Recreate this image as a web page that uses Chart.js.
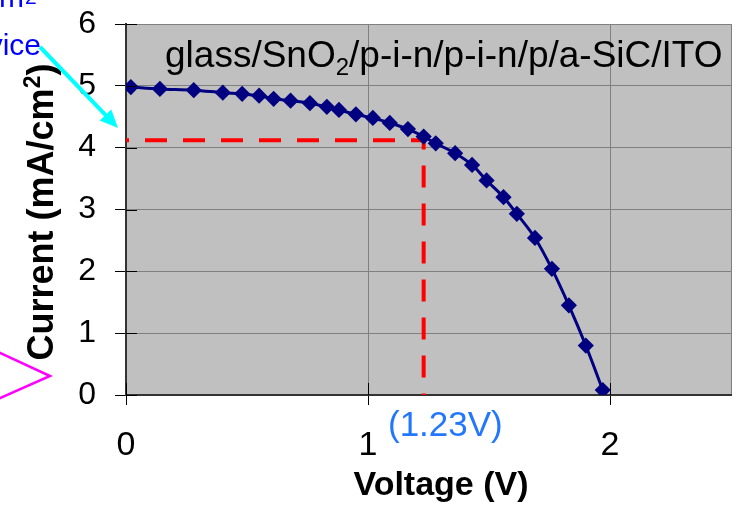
<!DOCTYPE html>
<html>
<head>
<meta charset="utf-8">
<script src="https://cdn.jsdelivr.net/npm/chart.js@4.4.0/dist/chart.umd.min.js"></script>
<style>
  body { margin: 0; background: #fff; }
  #wrap { width: 740px; height: 513px; position: relative; }
</style>
</head>
<body>
<div id="wrap"><canvas id="iv-chart"></canvas></div>
<script>
// I-V curve
const voltage = [0.02, 0.14, 0.28, 0.40, 0.48, 0.55, 0.61, 0.68, 0.76, 0.83, 0.88, 0.95, 1.02, 1.09,
    1.165, 1.23, 1.28, 1.36, 1.43, 1.49, 1.56, 1.615, 1.69, 1.76, 1.83, 1.90, 1.97];
const current = [4.98, 4.95, 4.93, 4.89, 4.87, 4.84, 4.79, 4.76, 4.72, 4.66, 4.61, 4.54, 4.48, 4.40,
    4.30, 4.18, 4.07, 3.91, 3.72, 3.47, 3.20, 2.93, 2.54, 2.04, 1.45, 0.80, 0.08];

// operating point guide (red dashed)
const guideV = [0, 1.23, 1.23];
const guideI = [4.12, 4.12, 0];

const xTicks = [0, 1, 2, 2.5];
const yTicks = [0, 1, 2, 3, 4, 5, 6];

const FONT = "'Liberation Sans', Arial, sans-serif";

function pts(xs, ys) {
    return xs.map((x, i) => ({ x: x, y: ys[i] }));
}

const extras = {
    id: 'extras',
    beforeDraw(chart) {
        const a = chart.chartArea, ctx = chart.ctx;
        ctx.save();
        ctx.fillStyle = '#c0c0c0';
        ctx.fillRect(a.left, a.top, a.right - a.left, a.bottom - a.top);
        ctx.restore();
    },
    afterDraw(chart) {
        const ctx = chart.ctx, a = chart.chartArea;
        const xs = chart.scales.x, ys = chart.scales.y;
        ctx.save();

        // ticks crossing into the plot
        ctx.strokeStyle = '#000';
        ctx.lineWidth = 1;
        yTicks.forEach(v => {
            const y = Math.round(ys.getPixelForValue(v)) + 0.5;
            ctx.beginPath(); ctx.moveTo(a.left, y); ctx.lineTo(a.left + 11, y); ctx.stroke();
        });
        [0, 1, 2].forEach(v => {
            const x = Math.round(xs.getPixelForValue(v)) + 0.5;
            ctx.beginPath(); ctx.moveTo(x, a.bottom); ctx.lineTo(x, a.bottom - 12); ctx.stroke();
        });

        // title inside plot
        ctx.fillStyle = '#000';
        ctx.textBaseline = 'alphabetic';
        ctx.textAlign = 'left';
        let tx = 165;
        ctx.font = '37px ' + FONT;
        ctx.fillText('glass/SnO', tx, 67);
        tx += ctx.measureText('glass/SnO').width;
        ctx.font = '24px ' + FONT;
        ctx.fillText('2', tx, 75);
        tx += ctx.measureText('2').width;
        ctx.font = '37px ' + FONT;
        ctx.fillText('/p-i-n/p-i-n/p/a-SiC/ITO', tx, 67);

        // y axis title
        ctx.save();
        ctx.translate(53, 212);
        ctx.rotate(-Math.PI / 2);
        const p1 = 'Current (mA/cm', p3 = ')';
        ctx.font = 'bold 36px ' + FONT;
        const w1 = ctx.measureText(p1).width, w3 = ctx.measureText(p3).width;
        ctx.font = 'bold 23px ' + FONT;
        const w2 = ctx.measureText('2').width;
        let sx = -(w1 + w2 + w3) / 2;
        ctx.font = 'bold 36px ' + FONT;
        ctx.fillText(p1, sx, 0);
        ctx.font = 'bold 23px ' + FONT;
        ctx.fillText('2', sx + w1, -13);
        ctx.font = 'bold 36px ' + FONT;
        ctx.fillText(p3, sx + w1 + w2, 0);
        ctx.restore();

        // x axis title
        ctx.font = 'bold 34px ' + FONT;
        ctx.textAlign = 'center';
        ctx.fillText('Voltage (V)', 441, 495);

        // operating voltage label
        ctx.fillStyle = '#2277ff';
        ctx.font = '35px ' + FONT;
        ctx.textAlign = 'left';
        ctx.fillText('(1.23V)', 388, 436);

        // cut-off callout text at the left edge
        ctx.fillStyle = '#0000ff';
        ctx.textAlign = 'right';
        ctx.font = '30px ' + FONT;
        ctx.fillText('device', 41, 55);
        ctx.fillText('mA/cm', 24, 7);
        ctx.textAlign = 'left';
        ctx.font = '21px ' + FONT;
        ctx.fillText('2', 25, 4);

        // cyan arrow
        ctx.strokeStyle = '#00ffff';
        ctx.fillStyle = '#00ffff';
        ctx.lineWidth = 4;
        const x0 = 40, y0 = 47, x1 = 118, y1 = 128;
        const ang = Math.atan2(y1 - y0, x1 - x0);
        ctx.beginPath();
        ctx.moveTo(x0, y0);
        ctx.lineTo(x1 - 14 * Math.cos(ang), y1 - 14 * Math.sin(ang));
        ctx.stroke();
        ctx.beginPath();
        ctx.moveTo(x1, y1);
        ctx.lineTo(x1 - 18 * Math.cos(ang) + 8 * Math.sin(ang), y1 - 18 * Math.sin(ang) - 8 * Math.cos(ang));
        ctx.lineTo(x1 - 18 * Math.cos(ang) - 8 * Math.sin(ang), y1 - 18 * Math.sin(ang) + 8 * Math.cos(ang));
        ctx.closePath();
        ctx.fill();

        // magenta shape
        ctx.strokeStyle = '#ff00ff';
        ctx.lineWidth = 2.5;
        ctx.beginPath();
        ctx.moveTo(-2, 352);
        ctx.lineTo(50, 376);
        ctx.lineTo(-2, 399);
        ctx.stroke();

        ctx.restore();
    }
};

new Chart(document.getElementById('iv-chart'), {
    type: 'scatter',
    data: {
        datasets: [{
            data: pts(voltage, current),
            showLine: true,
            tension: 0.35,
            borderColor: '#000080',
            backgroundColor: '#000080',
            borderWidth: 3,
            pointStyle: 'rectRot',
            pointRadius: 6,
            pointHoverRadius: 6
        }, {
            data: pts(guideV, guideI),
            showLine: true,
            borderColor: '#ff0000',
            borderWidth: 4,
            borderDash: [22, 16],
            borderDashOffset: 19,
            borderCapStyle: 'butt',
            pointRadius: 0,
            pointHoverRadius: 0
        }]
    },
    options: {
        responsive: true,
        maintainAspectRatio: false,
        animation: false,
        events: [],
        layout: { padding: { top: 24, right: 0, left: 0, bottom: 0 } },
        plugins: {
            legend: { display: false },
            tooltip: { enabled: false },
            title: { display: false }
        },
        scales: {
            x: {
                type: 'linear',
                min: 0,
                max: 2.5,
                afterBuildTicks: s => { s.ticks = xTicks.map(v => ({ value: v })); },
                afterFit: s => { s.height = 118; s.paddingLeft = 0; s.paddingRight = 0; },
                border: { color: '#333', width: 2 },
                grid: {
                    color: '#808080',
                    lineWidth: 1,
                    tickLength: 10,
                    tickColor: c => (c.tick && c.tick.value === 2.5 ? 'rgba(0,0,0,0)' : '#000')
                },
                ticks: {
                    color: '#000',
                    padding: 20,
                    maxRotation: 0,
                    font: { family: FONT, size: 34 },
                    callback: v => (v === 2.5 ? '' : v)
                }
            },
            y: {
                min: 0,
                max: 6,
                afterBuildTicks: s => { s.ticks = yTicks.map(v => ({ value: v })); },
                afterFit: s => { s.width = 126; s.paddingTop = 0; s.paddingBottom = 0; },
                border: { color: '#333', width: 2 },
                grid: {
                    color: '#808080',
                    lineWidth: 1,
                    tickLength: 11,
                    tickColor: '#000'
                },
                ticks: {
                    color: '#000',
                    padding: 19,
                    font: { family: FONT, size: 32 }
                }
            }
        }
    },
    plugins: [extras]
});
</script>
</body>
</html>
